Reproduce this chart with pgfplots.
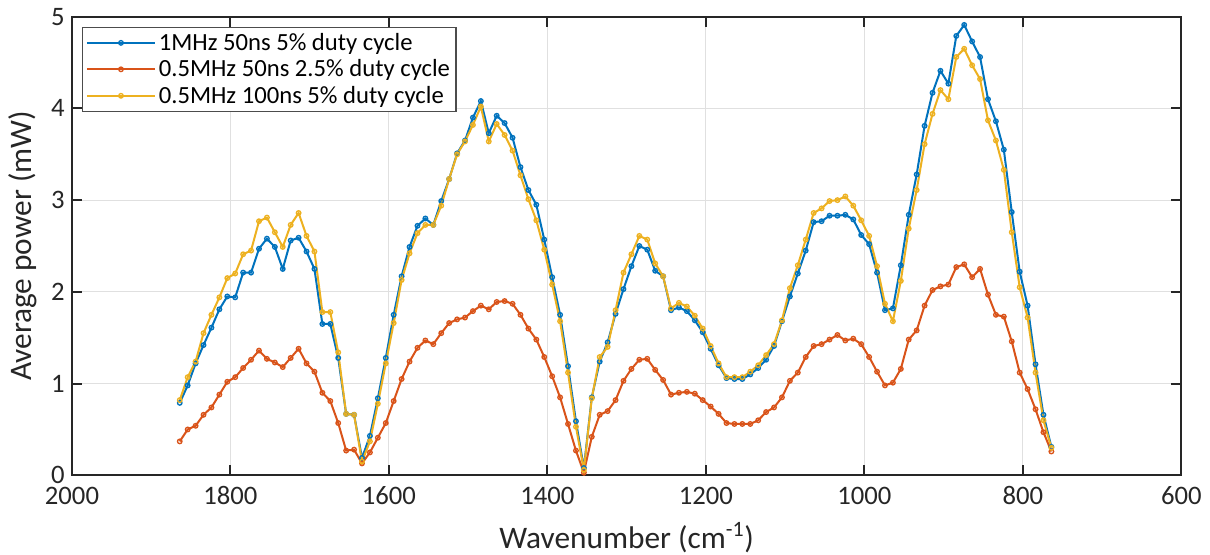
\documentclass[border=0pt]{standalone}
\usepackage{pgfplots}
\pgfplotsset{compat=1.18}
\usepackage{pgfplotstable}
\usepackage{fontspec}
\setmainfont{Carlito}
\definecolor{mblue}{rgb}{0,0.447,0.741}
\definecolor{mred}{rgb}{0.85,0.325,0.098}
\definecolor{myellow}{rgb}{0.929,0.694,0.125}

\pgfplotstableread{
i b r y
0 0.79 0.37 0.82
1 0.98 0.50 1.07
2 1.22 0.54 1.24
3 1.42 0.66 1.55
4 1.61 0.74 1.75
5 1.81 0.88 1.94
6 1.95 1.02 2.15
7 1.94 1.07 2.20
8 2.21 1.17 2.41
9 2.21 1.26 2.45
10 2.47 1.36 2.77
11 2.58 1.27 2.81
12 2.49 1.23 2.65
13 2.25 1.18 2.49
14 2.56 1.28 2.73
15 2.59 1.38 2.86
16 2.44 1.22 2.61
17 2.25 1.13 2.44
18 1.65 0.90 1.78
19 1.65 0.81 1.78
20 1.28 0.57 1.34
21 0.67 0.27 0.67
22 0.66 0.28 0.66
23 0.19 0.13 0.15
24 0.43 0.25 0.37
25 0.84 0.41 0.78
26 1.28 0.57 1.22
27 1.75 0.81 1.66
28 2.17 1.05 2.13
29 2.49 1.24 2.42
30 2.72 1.39 2.64
31 2.80 1.47 2.73
32 2.73 1.43 2.73
33 2.99 1.55 2.94
34 3.23 1.66 3.23
35 3.51 1.70 3.50
36 3.65 1.72 3.64
37 3.90 1.79 3.82
38 4.08 1.85 4.02
39 3.73 1.81 3.64
40 3.92 1.89 3.83
41 3.84 1.90 3.71
42 3.68 1.87 3.54
43 3.36 1.75 3.27
44 3.11 1.60 3.01
45 2.95 1.48 2.78
46 2.57 1.29 2.46
47 2.16 1.08 2.08
48 1.75 0.85 1.68
49 1.19 0.56 1.12
50 0.59 0.27 0.53
51 0.08 0.03 0.06
52 0.85 0.42 0.84
53 1.24 0.66 1.29
54 1.45 0.70 1.40
55 1.76 0.82 1.80
56 2.03 1.03 2.21
57 2.28 1.16 2.41
58 2.50 1.26 2.61
59 2.46 1.27 2.57
60 2.23 1.15 2.31
61 2.17 1.04 2.17
62 1.80 0.88 1.82
63 1.83 0.90 1.88
64 1.79 0.91 1.84
65 1.69 0.89 1.74
66 1.56 0.82 1.60
67 1.38 0.75 1.41
68 1.20 0.67 1.22
69 1.06 0.57 1.07
70 1.05 0.56 1.07
71 1.05 0.56 1.07
72 1.10 0.56 1.13
73 1.17 0.60 1.20
74 1.26 0.69 1.31
75 1.41 0.74 1.43
76 1.68 0.85 1.69
77 1.95 1.03 2.04
78 2.20 1.12 2.29
79 2.45 1.29 2.57
80 2.76 1.41 2.86
81 2.77 1.43 2.91
82 2.83 1.48 2.99
83 2.83 1.53 3.00
84 2.84 1.47 3.04
85 2.79 1.49 2.94
86 2.62 1.43 2.78
87 2.52 1.29 2.61
88 2.21 1.13 2.28
89 1.80 0.98 1.87
90 1.82 1.01 1.68
91 2.29 1.16 2.12
92 2.84 1.48 2.69
93 3.28 1.58 3.11
94 3.81 1.85 3.61
95 4.17 2.02 3.94
96 4.41 2.06 4.20
97 4.27 2.08 4.10
98 4.79 2.27 4.56
99 4.91 2.30 4.65
100 4.73 2.16 4.47
101 4.56 2.25 4.32
102 4.10 1.97 3.87
103 3.86 1.75 3.65
104 3.55 1.73 3.33
105 2.87 1.46 2.65
106 2.22 1.12 2.05
107 1.85 0.94 1.72
108 1.21 0.72 1.12
109 0.66 0.47 0.60
110 0.31 0.26 0.30
}\datatable

\begin{document}
\begin{tikzpicture}
\begin{axis}[
  scale only axis,
  width=832pt, height=344pt,
  x dir=reverse,
  xmin=600, xmax=2000, ymin=0, ymax=5,
  xtick={600,800,...,2000}, ytick={0,1,...,5},
  grid=major,
  grid style={black!12, line width=0.7pt},
  tick align=inside,
  major tick length=7.5pt,
  axis line style={black!85, line width=1.5pt},
  tick style={black!85, line width=1.5pt},
  /pgf/number format/assume math mode=true,
  /pgf/number format/1000 sep={},
  ticklabel style={font=\fontsize{20}{20}\selectfont, text=black!85},
  xticklabel style={yshift=-5pt},
  yticklabel style={xshift=-2pt},
  xlabel={Wavenumber (cm\textsuperscript{-1})},
  ylabel={Average power (mW)},
  label style={font=\fontsize{23.5}{23.5}\selectfont, text=black!85},
  xlabel style={yshift=-6pt},
  ylabel style={yshift=4pt},
  legend style={at={(0.009,0.978)}, anchor=north west, draw=black!70, line width=0.8pt,
     font=\fontsize{18.5}{19}\selectfont, inner sep=2.5pt, row sep=1.5pt},
  legend cell align=left,
  legend image code/.code={
    \draw[mark repeat=2,mark phase=2]
    plot coordinates {(0cm,0cm) (0.9cm,0cm) (1.8cm,0cm)};},
  every axis plot/.append style={line width=1.5pt, mark=o, mark size=1.7pt,
     mark options={line width=1pt}},
]
\coordinate (sw) at (rel axis cs:0,0);
\addplot[mblue] table[x expr={1864-10*\thisrow{i}}, y=b] {\datatable};
\addplot[mred] table[x expr={1864-10*\thisrow{i}}, y=r] {\datatable};
\addplot[myellow] table[x expr={1864-10*\thisrow{i}}, y=y] {\datatable};
\legend{1MHz 50ns 5\% duty cycle, 0.5MHz 50ns 2.5\% duty cycle, 0.5MHz 100ns 5\% duty cycle}
\end{axis}
\pgfresetboundingbox
\path[use as bounding box] (sw) ++(-54pt,-59pt) rectangle ++(907.5pt,415.5pt);
\end{tikzpicture}
\end{document}
